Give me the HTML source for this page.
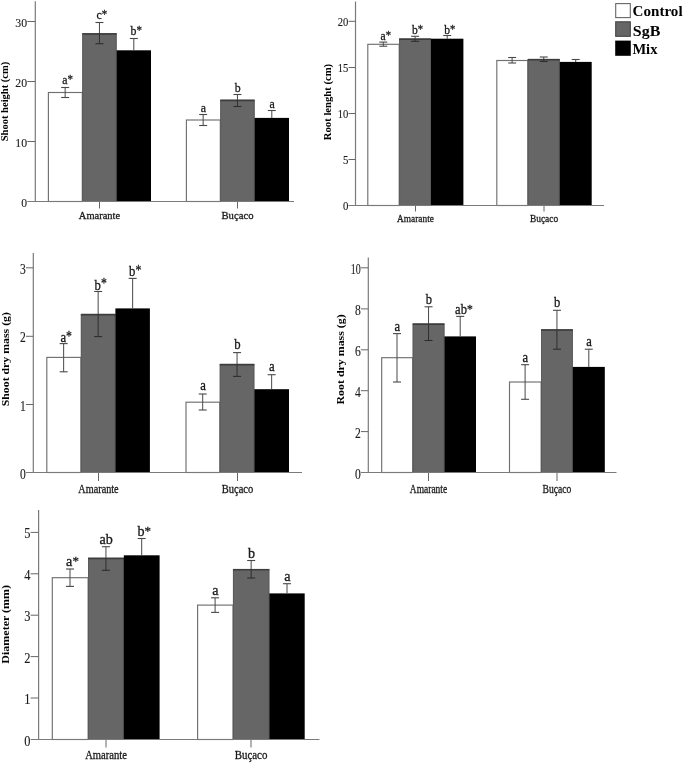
<!DOCTYPE html>
<html><head><meta charset="utf-8"><title>Figure</title>
<style>
html,body{margin:0;padding:0;background:#fff;}
svg{display:block;font-family:"Liberation Serif","DejaVu Serif",serif;}
</style></head><body>
<svg width="685" height="763" viewBox="0 0 685 763">
<rect x="0" y="0" width="685" height="763" fill="#ffffff"/>
<rect x="48.40" y="92.50" width="33.90" height="109.00" fill="#fff" stroke="#707070" stroke-width="1.15"/>
<rect x="82.30" y="33.00" width="34.30" height="168.50" fill="#666666"/>
<path d="M82.70 201.50V33.50M116.20 33.50V201.50" fill="none" stroke="#585858" stroke-width="0.9"/>
<path d="M82.30 33.95H116.60" fill="none" stroke="#3c3c3c" stroke-width="1.5"/>
<rect x="116.60" y="50.30" width="34.40" height="151.20" fill="#000"/>
<line x1="65.15" y1="87.50" x2="65.15" y2="92.50" stroke="#484848" stroke-width="1"/>
<line x1="65.15" y1="92.50" x2="65.15" y2="97.50" stroke="#484848" stroke-width="1"/>
<line x1="61.15" y1="87.50" x2="69.15" y2="87.50" stroke="#484848" stroke-width="1.1"/>
<line x1="61.15" y1="97.50" x2="69.15" y2="97.50" stroke="#484848" stroke-width="1.1"/>
<text transform="translate(67.65 84.20) scale(0.88 1)" font-size="13.5" text-anchor="middle" fill="#1a1a1a" stroke="#1a1a1a" stroke-width="0.3">a<tspan dy="-0.9" font-size="12.4">*</tspan></text>
<line x1="99.45" y1="22.50" x2="99.45" y2="33.50" stroke="#484848" stroke-width="1"/>
<line x1="99.45" y1="33.50" x2="99.45" y2="43.70" stroke="#2e2e2e" stroke-width="1"/>
<line x1="95.45" y1="22.50" x2="103.45" y2="22.50" stroke="#484848" stroke-width="1.1"/>
<line x1="95.45" y1="43.70" x2="103.45" y2="43.70" stroke="#2e2e2e" stroke-width="1.1"/>
<text transform="translate(101.95 19.20) scale(0.88 1)" font-size="13.5" text-anchor="middle" fill="#1a1a1a" stroke="#1a1a1a" stroke-width="0.3">c<tspan dy="-0.9" font-size="12.4">*</tspan></text>
<line x1="133.80" y1="38.50" x2="133.80" y2="50.40" stroke="#484848" stroke-width="1"/>
<line x1="129.80" y1="38.50" x2="137.80" y2="38.50" stroke="#484848" stroke-width="1.1"/>
<text transform="translate(136.30 35.20) scale(0.88 1)" font-size="13.5" text-anchor="middle" fill="#1a1a1a" stroke="#1a1a1a" stroke-width="0.3">b<tspan dy="-0.9" font-size="12.4">*</tspan></text>
<line x1="99.50" y1="201.50" x2="99.50" y2="208.50" stroke="#666" stroke-width="1"/>
<text transform="translate(99.50 218.70)" font-size="11" text-anchor="middle" fill="#1a1a1a" stroke="#1a1a1a" stroke-width="0.3" textLength="41.3" lengthAdjust="spacingAndGlyphs">Amarante</text>
<rect x="186.40" y="120.00" width="33.90" height="81.50" fill="#fff" stroke="#707070" stroke-width="1.15"/>
<rect x="220.30" y="99.50" width="34.30" height="102.00" fill="#666666"/>
<path d="M220.70 201.50V100.00M254.20 100.00V201.50" fill="none" stroke="#585858" stroke-width="0.9"/>
<path d="M220.30 100.45H254.60" fill="none" stroke="#3c3c3c" stroke-width="1.5"/>
<rect x="254.60" y="117.90" width="34.40" height="83.60" fill="#000"/>
<line x1="203.15" y1="114.50" x2="203.15" y2="120.00" stroke="#484848" stroke-width="1"/>
<line x1="203.15" y1="120.00" x2="203.15" y2="125.50" stroke="#484848" stroke-width="1"/>
<line x1="199.15" y1="114.50" x2="207.15" y2="114.50" stroke="#484848" stroke-width="1.1"/>
<line x1="199.15" y1="125.50" x2="207.15" y2="125.50" stroke="#484848" stroke-width="1.1"/>
<text transform="translate(203.45 112.30) scale(0.88 1)" font-size="13.5" text-anchor="middle" fill="#1a1a1a" stroke="#1a1a1a" stroke-width="0.3">a</text>
<line x1="237.45" y1="94.50" x2="237.45" y2="100.00" stroke="#484848" stroke-width="1"/>
<line x1="237.45" y1="100.00" x2="237.45" y2="106.50" stroke="#2e2e2e" stroke-width="1"/>
<line x1="233.45" y1="94.50" x2="241.45" y2="94.50" stroke="#484848" stroke-width="1.1"/>
<line x1="233.45" y1="106.50" x2="241.45" y2="106.50" stroke="#2e2e2e" stroke-width="1.1"/>
<text transform="translate(237.75 91.80) scale(0.88 1)" font-size="13.5" text-anchor="middle" fill="#1a1a1a" stroke="#1a1a1a" stroke-width="0.3">b</text>
<line x1="271.80" y1="110.50" x2="271.80" y2="118.00" stroke="#484848" stroke-width="1"/>
<line x1="267.80" y1="110.50" x2="275.80" y2="110.50" stroke="#484848" stroke-width="1.1"/>
<text transform="translate(272.10 108.30) scale(0.88 1)" font-size="13.5" text-anchor="middle" fill="#1a1a1a" stroke="#1a1a1a" stroke-width="0.3">a</text>
<line x1="237.50" y1="201.50" x2="237.50" y2="208.50" stroke="#666" stroke-width="1"/>
<text transform="translate(237.50 218.70)" font-size="11" text-anchor="middle" fill="#1a1a1a" stroke="#1a1a1a" stroke-width="0.3" textLength="32" lengthAdjust="spacingAndGlyphs">Buçaco</text>
<line x1="35.30" y1="1.20" x2="35.30" y2="202.00" stroke="#7a7a7a" stroke-width="1.2"/>
<line x1="27.30" y1="201.50" x2="294.00" y2="201.50" stroke="#7a7a7a" stroke-width="1.2"/>
<text transform="translate(27.10 206.90)" font-size="13" text-anchor="end" fill="#1a1a1a" stroke="#1a1a1a" stroke-width="0.12" textLength="5.8" lengthAdjust="spacingAndGlyphs">0</text>
<line x1="27.30" y1="141.50" x2="35.30" y2="141.50" stroke="#666" stroke-width="1"/>
<text transform="translate(27.10 146.90)" font-size="13" text-anchor="end" fill="#1a1a1a" stroke="#1a1a1a" stroke-width="0.12" textLength="11.8" lengthAdjust="spacingAndGlyphs">10</text>
<line x1="27.30" y1="81.50" x2="35.30" y2="81.50" stroke="#666" stroke-width="1"/>
<text transform="translate(27.10 86.90)" font-size="13" text-anchor="end" fill="#1a1a1a" stroke="#1a1a1a" stroke-width="0.12" textLength="11.8" lengthAdjust="spacingAndGlyphs">20</text>
<line x1="27.30" y1="21.50" x2="35.30" y2="21.50" stroke="#666" stroke-width="1"/>
<text transform="translate(27.10 26.90)" font-size="13" text-anchor="end" fill="#1a1a1a" stroke="#1a1a1a" stroke-width="0.12" textLength="11.8" lengthAdjust="spacingAndGlyphs">30</text>
<text transform="translate(8.40 101.50) rotate(-90)" font-size="10" text-anchor="middle" fill="#000" font-weight="bold" textLength="79.6" lengthAdjust="spacingAndGlyphs">Shoot height (cm)</text>
<rect x="367.80" y="44.30" width="31.40" height="161.20" fill="#fff" stroke="#707070" stroke-width="1.15"/>
<rect x="399.20" y="38.30" width="31.80" height="167.20" fill="#666666"/>
<path d="M399.60 205.50V38.80M430.60 38.80V205.50" fill="none" stroke="#585858" stroke-width="0.9"/>
<path d="M399.20 39.25H431.00" fill="none" stroke="#3c3c3c" stroke-width="1.5"/>
<rect x="431.00" y="38.70" width="32.40" height="166.80" fill="#000"/>
<line x1="383.30" y1="42.10" x2="383.30" y2="44.30" stroke="#484848" stroke-width="1"/>
<line x1="383.30" y1="44.30" x2="383.30" y2="46.20" stroke="#484848" stroke-width="1"/>
<line x1="379.30" y1="42.10" x2="387.30" y2="42.10" stroke="#484848" stroke-width="1.1"/>
<line x1="379.30" y1="46.20" x2="387.30" y2="46.20" stroke="#484848" stroke-width="1.1"/>
<text transform="translate(385.80 40.10) scale(0.88 1)" font-size="13.2" text-anchor="middle" fill="#1a1a1a" stroke="#1a1a1a" stroke-width="0.3">a<tspan dy="-0.9" font-size="12.1">*</tspan></text>
<line x1="415.10" y1="36.30" x2="415.10" y2="38.80" stroke="#484848" stroke-width="1"/>
<line x1="415.10" y1="38.80" x2="415.10" y2="41.30" stroke="#2e2e2e" stroke-width="1"/>
<line x1="411.10" y1="36.30" x2="419.10" y2="36.30" stroke="#484848" stroke-width="1.1"/>
<line x1="411.10" y1="41.30" x2="419.10" y2="41.30" stroke="#2e2e2e" stroke-width="1.1"/>
<text transform="translate(417.60 34.30) scale(0.88 1)" font-size="13.2" text-anchor="middle" fill="#1a1a1a" stroke="#1a1a1a" stroke-width="0.3">b<tspan dy="-0.9" font-size="12.1">*</tspan></text>
<line x1="447.20" y1="35.50" x2="447.20" y2="38.80" stroke="#484848" stroke-width="1"/>
<line x1="443.20" y1="35.50" x2="451.20" y2="35.50" stroke="#484848" stroke-width="1.1"/>
<text transform="translate(449.70 33.50) scale(0.88 1)" font-size="13.2" text-anchor="middle" fill="#1a1a1a" stroke="#1a1a1a" stroke-width="0.3">b<tspan dy="-0.9" font-size="12.1">*</tspan></text>
<line x1="415.50" y1="205.50" x2="415.50" y2="211.50" stroke="#666" stroke-width="1"/>
<text transform="translate(415.50 221.90)" font-size="11" text-anchor="middle" fill="#1a1a1a" stroke="#1a1a1a" stroke-width="0.3" textLength="36.8" lengthAdjust="spacingAndGlyphs">Amarante</text>
<rect x="496.80" y="60.50" width="31.00" height="145.00" fill="#fff" stroke="#707070" stroke-width="1.15"/>
<rect x="527.80" y="58.80" width="31.90" height="146.70" fill="#666666"/>
<path d="M528.20 205.50V59.30M559.30 59.30V205.50" fill="none" stroke="#585858" stroke-width="0.9"/>
<path d="M527.80 59.75H559.70" fill="none" stroke="#3c3c3c" stroke-width="1.5"/>
<rect x="559.70" y="61.90" width="32.00" height="143.60" fill="#000"/>
<line x1="512.10" y1="57.50" x2="512.10" y2="60.50" stroke="#484848" stroke-width="1"/>
<line x1="512.10" y1="60.50" x2="512.10" y2="63.00" stroke="#484848" stroke-width="1"/>
<line x1="508.10" y1="57.50" x2="516.10" y2="57.50" stroke="#484848" stroke-width="1.1"/>
<line x1="508.10" y1="63.00" x2="516.10" y2="63.00" stroke="#484848" stroke-width="1.1"/>
<line x1="543.75" y1="57.00" x2="543.75" y2="59.30" stroke="#484848" stroke-width="1"/>
<line x1="543.75" y1="59.30" x2="543.75" y2="61.50" stroke="#2e2e2e" stroke-width="1"/>
<line x1="539.75" y1="57.00" x2="547.75" y2="57.00" stroke="#484848" stroke-width="1.1"/>
<line x1="539.75" y1="61.50" x2="547.75" y2="61.50" stroke="#2e2e2e" stroke-width="1.1"/>
<line x1="575.70" y1="59.50" x2="575.70" y2="62.00" stroke="#484848" stroke-width="1"/>
<line x1="571.70" y1="59.50" x2="579.70" y2="59.50" stroke="#484848" stroke-width="1.1"/>
<line x1="544.00" y1="205.50" x2="544.00" y2="211.50" stroke="#666" stroke-width="1"/>
<text transform="translate(544.00 221.90)" font-size="11" text-anchor="middle" fill="#1a1a1a" stroke="#1a1a1a" stroke-width="0.3" textLength="28.2" lengthAdjust="spacingAndGlyphs">Buçaco</text>
<line x1="355.50" y1="1.50" x2="355.50" y2="206.00" stroke="#7a7a7a" stroke-width="1.2"/>
<line x1="348.50" y1="205.50" x2="604.00" y2="205.50" stroke="#7a7a7a" stroke-width="1.2"/>
<text transform="translate(348.30 210.30)" font-size="12.5" text-anchor="end" fill="#1a1a1a" stroke="#1a1a1a" stroke-width="0.12" textLength="5.4" lengthAdjust="spacingAndGlyphs">0</text>
<line x1="348.50" y1="159.50" x2="355.50" y2="159.50" stroke="#666" stroke-width="1"/>
<text transform="translate(348.30 164.30)" font-size="12.5" text-anchor="end" fill="#1a1a1a" stroke="#1a1a1a" stroke-width="0.12" textLength="5.4" lengthAdjust="spacingAndGlyphs">5</text>
<line x1="348.50" y1="113.50" x2="355.50" y2="113.50" stroke="#666" stroke-width="1"/>
<text transform="translate(348.30 118.30)" font-size="12.5" text-anchor="end" fill="#1a1a1a" stroke="#1a1a1a" stroke-width="0.12" textLength="10.6" lengthAdjust="spacingAndGlyphs">10</text>
<line x1="348.50" y1="67.50" x2="355.50" y2="67.50" stroke="#666" stroke-width="1"/>
<text transform="translate(348.30 72.30)" font-size="12.5" text-anchor="end" fill="#1a1a1a" stroke="#1a1a1a" stroke-width="0.12" textLength="10.6" lengthAdjust="spacingAndGlyphs">15</text>
<line x1="348.50" y1="21.30" x2="355.50" y2="21.30" stroke="#666" stroke-width="1"/>
<text transform="translate(348.30 26.10)" font-size="12.5" text-anchor="end" fill="#1a1a1a" stroke="#1a1a1a" stroke-width="0.12" textLength="10.6" lengthAdjust="spacingAndGlyphs">20</text>
<text transform="translate(330.70 102.00) rotate(-90)" font-size="9.5" text-anchor="middle" fill="#000" font-weight="bold" textLength="76.3" lengthAdjust="spacingAndGlyphs">Root lenght (cm)</text>
<rect x="46.80" y="357.40" width="34.10" height="115.10" fill="#fff" stroke="#707070" stroke-width="1.15"/>
<rect x="80.90" y="313.70" width="34.50" height="158.80" fill="#666666"/>
<path d="M81.30 472.50V314.20M115.00 314.20V472.50" fill="none" stroke="#585858" stroke-width="0.9"/>
<path d="M80.90 314.65H115.40" fill="none" stroke="#3c3c3c" stroke-width="1.5"/>
<rect x="115.40" y="308.40" width="34.50" height="164.10" fill="#000"/>
<line x1="63.65" y1="343.60" x2="63.65" y2="357.40" stroke="#484848" stroke-width="1"/>
<line x1="63.65" y1="357.40" x2="63.65" y2="371.80" stroke="#484848" stroke-width="1"/>
<line x1="59.65" y1="343.60" x2="67.65" y2="343.60" stroke="#484848" stroke-width="1.1"/>
<line x1="59.65" y1="371.80" x2="67.65" y2="371.80" stroke="#484848" stroke-width="1.1"/>
<text transform="translate(66.15 341.60) scale(0.85 1)" font-size="15" text-anchor="middle" fill="#1a1a1a" stroke="#1a1a1a" stroke-width="0.3">a<tspan dy="-1.1" font-size="13.8">*</tspan></text>
<line x1="98.15" y1="291.50" x2="98.15" y2="314.20" stroke="#484848" stroke-width="1"/>
<line x1="98.15" y1="314.20" x2="98.15" y2="336.60" stroke="#2e2e2e" stroke-width="1"/>
<line x1="94.15" y1="291.50" x2="102.15" y2="291.50" stroke="#484848" stroke-width="1.1"/>
<line x1="94.15" y1="336.60" x2="102.15" y2="336.60" stroke="#2e2e2e" stroke-width="1.1"/>
<text transform="translate(100.65 289.50) scale(0.85 1)" font-size="15" text-anchor="middle" fill="#1a1a1a" stroke="#1a1a1a" stroke-width="0.3">b<tspan dy="-1.1" font-size="13.8">*</tspan></text>
<line x1="132.65" y1="278.40" x2="132.65" y2="308.50" stroke="#484848" stroke-width="1"/>
<line x1="128.65" y1="278.40" x2="136.65" y2="278.40" stroke="#484848" stroke-width="1.1"/>
<text transform="translate(135.15 276.40) scale(0.85 1)" font-size="15" text-anchor="middle" fill="#1a1a1a" stroke="#1a1a1a" stroke-width="0.3">b<tspan dy="-1.1" font-size="13.8">*</tspan></text>
<line x1="98.50" y1="472.50" x2="98.50" y2="481.00" stroke="#666" stroke-width="1"/>
<text transform="translate(98.50 492.60)" font-size="12" text-anchor="middle" fill="#1a1a1a" stroke="#1a1a1a" stroke-width="0.3" textLength="40.3" lengthAdjust="spacingAndGlyphs">Amarante</text>
<rect x="186.00" y="402.20" width="33.80" height="70.30" fill="#fff" stroke="#707070" stroke-width="1.15"/>
<rect x="219.80" y="363.70" width="34.50" height="108.80" fill="#666666"/>
<path d="M220.20 472.50V364.20M253.90 364.20V472.50" fill="none" stroke="#585858" stroke-width="0.9"/>
<path d="M219.80 364.65H254.30" fill="none" stroke="#3c3c3c" stroke-width="1.5"/>
<rect x="254.30" y="389.20" width="34.70" height="83.30" fill="#000"/>
<line x1="202.70" y1="394.00" x2="202.70" y2="402.20" stroke="#484848" stroke-width="1"/>
<line x1="202.70" y1="402.20" x2="202.70" y2="410.00" stroke="#484848" stroke-width="1"/>
<line x1="198.70" y1="394.00" x2="206.70" y2="394.00" stroke="#484848" stroke-width="1.1"/>
<line x1="198.70" y1="410.00" x2="206.70" y2="410.00" stroke="#484848" stroke-width="1.1"/>
<text transform="translate(203.00 390.30) scale(0.85 1)" font-size="15" text-anchor="middle" fill="#1a1a1a" stroke="#1a1a1a" stroke-width="0.3">a</text>
<line x1="237.05" y1="352.60" x2="237.05" y2="364.20" stroke="#484848" stroke-width="1"/>
<line x1="237.05" y1="364.20" x2="237.05" y2="376.40" stroke="#2e2e2e" stroke-width="1"/>
<line x1="233.05" y1="352.60" x2="241.05" y2="352.60" stroke="#484848" stroke-width="1.1"/>
<line x1="233.05" y1="376.40" x2="241.05" y2="376.40" stroke="#2e2e2e" stroke-width="1.1"/>
<text transform="translate(237.35 348.90) scale(0.85 1)" font-size="15" text-anchor="middle" fill="#1a1a1a" stroke="#1a1a1a" stroke-width="0.3">b</text>
<line x1="271.65" y1="374.70" x2="271.65" y2="389.30" stroke="#484848" stroke-width="1"/>
<line x1="267.65" y1="374.70" x2="275.65" y2="374.70" stroke="#484848" stroke-width="1.1"/>
<text transform="translate(271.95 371.00) scale(0.85 1)" font-size="15" text-anchor="middle" fill="#1a1a1a" stroke="#1a1a1a" stroke-width="0.3">a</text>
<line x1="237.50" y1="472.50" x2="237.50" y2="481.00" stroke="#666" stroke-width="1"/>
<text transform="translate(237.50 492.60)" font-size="12" text-anchor="middle" fill="#1a1a1a" stroke="#1a1a1a" stroke-width="0.3" textLength="31.5" lengthAdjust="spacingAndGlyphs">Buçaco</text>
<line x1="33.30" y1="253.00" x2="33.30" y2="473.00" stroke="#7a7a7a" stroke-width="1.2"/>
<line x1="26.00" y1="472.50" x2="302.00" y2="472.50" stroke="#7a7a7a" stroke-width="1.2"/>
<text transform="translate(25.80 478.50)" font-size="14" text-anchor="end" fill="#1a1a1a" stroke="#1a1a1a" stroke-width="0.12" textLength="5.8" lengthAdjust="spacingAndGlyphs">0</text>
<line x1="26.00" y1="404.50" x2="33.30" y2="404.50" stroke="#666" stroke-width="1"/>
<text transform="translate(25.80 410.50)" font-size="14" text-anchor="end" fill="#1a1a1a" stroke="#1a1a1a" stroke-width="0.12" textLength="5.8" lengthAdjust="spacingAndGlyphs">1</text>
<line x1="26.00" y1="336.30" x2="33.30" y2="336.30" stroke="#666" stroke-width="1"/>
<text transform="translate(25.80 342.30)" font-size="14" text-anchor="end" fill="#1a1a1a" stroke="#1a1a1a" stroke-width="0.12" textLength="5.8" lengthAdjust="spacingAndGlyphs">2</text>
<line x1="26.00" y1="267.80" x2="33.30" y2="267.80" stroke="#666" stroke-width="1"/>
<text transform="translate(25.80 273.80)" font-size="14" text-anchor="end" fill="#1a1a1a" stroke="#1a1a1a" stroke-width="0.12" textLength="5.8" lengthAdjust="spacingAndGlyphs">3</text>
<text transform="translate(8.50 359.20) rotate(-90)" font-size="10" text-anchor="middle" fill="#000" font-weight="bold" textLength="94.3" lengthAdjust="spacingAndGlyphs">Shoot dry mass (g)</text>
<rect x="381.70" y="357.70" width="31.00" height="114.80" fill="#fff" stroke="#707070" stroke-width="1.15"/>
<rect x="412.70" y="323.30" width="31.70" height="149.20" fill="#666666"/>
<path d="M413.10 472.50V323.80M444.00 323.80V472.50" fill="none" stroke="#585858" stroke-width="0.9"/>
<path d="M412.70 324.25H444.40" fill="none" stroke="#3c3c3c" stroke-width="1.5"/>
<rect x="444.40" y="336.40" width="31.60" height="136.10" fill="#000"/>
<line x1="397.00" y1="333.60" x2="397.00" y2="357.70" stroke="#484848" stroke-width="1"/>
<line x1="397.00" y1="357.70" x2="397.00" y2="382.00" stroke="#484848" stroke-width="1"/>
<line x1="393.00" y1="333.60" x2="401.00" y2="333.60" stroke="#484848" stroke-width="1.1"/>
<line x1="393.00" y1="382.00" x2="401.00" y2="382.00" stroke="#484848" stroke-width="1.1"/>
<text transform="translate(397.30 330.50) scale(0.88 1)" font-size="14.3" text-anchor="middle" fill="#1a1a1a" stroke="#1a1a1a" stroke-width="0.3">a</text>
<line x1="428.55" y1="306.80" x2="428.55" y2="323.80" stroke="#484848" stroke-width="1"/>
<line x1="428.55" y1="323.80" x2="428.55" y2="340.50" stroke="#2e2e2e" stroke-width="1"/>
<line x1="424.55" y1="306.80" x2="432.55" y2="306.80" stroke="#484848" stroke-width="1.1"/>
<line x1="424.55" y1="340.50" x2="432.55" y2="340.50" stroke="#2e2e2e" stroke-width="1.1"/>
<text transform="translate(428.85 303.70) scale(0.88 1)" font-size="14.3" text-anchor="middle" fill="#1a1a1a" stroke="#1a1a1a" stroke-width="0.3">b</text>
<line x1="460.20" y1="316.40" x2="460.20" y2="336.50" stroke="#484848" stroke-width="1"/>
<line x1="456.20" y1="316.40" x2="464.20" y2="316.40" stroke="#484848" stroke-width="1.1"/>
<text transform="translate(463.90 313.90) scale(0.88 1)" font-size="14.3" text-anchor="middle" fill="#1a1a1a" stroke="#1a1a1a" stroke-width="0.3">ab<tspan dy="-1.0" font-size="13.2">*</tspan></text>
<line x1="428.50" y1="472.50" x2="428.50" y2="481.00" stroke="#666" stroke-width="1"/>
<text transform="translate(428.50 492.60)" font-size="12" text-anchor="middle" fill="#1a1a1a" stroke="#1a1a1a" stroke-width="0.3" textLength="37.3" lengthAdjust="spacingAndGlyphs">Amarante</text>
<rect x="509.50" y="382.00" width="31.60" height="90.50" fill="#fff" stroke="#707070" stroke-width="1.15"/>
<rect x="541.10" y="329.10" width="31.70" height="143.40" fill="#666666"/>
<path d="M541.50 472.50V329.60M572.40 329.60V472.50" fill="none" stroke="#585858" stroke-width="0.9"/>
<path d="M541.10 330.05H572.80" fill="none" stroke="#3c3c3c" stroke-width="1.5"/>
<rect x="572.80" y="366.90" width="32.00" height="105.60" fill="#000"/>
<line x1="525.10" y1="364.70" x2="525.10" y2="382.00" stroke="#484848" stroke-width="1"/>
<line x1="525.10" y1="382.00" x2="525.10" y2="399.30" stroke="#484848" stroke-width="1"/>
<line x1="521.10" y1="364.70" x2="529.10" y2="364.70" stroke="#484848" stroke-width="1.1"/>
<line x1="521.10" y1="399.30" x2="529.10" y2="399.30" stroke="#484848" stroke-width="1.1"/>
<text transform="translate(525.40 361.60) scale(0.88 1)" font-size="14.3" text-anchor="middle" fill="#1a1a1a" stroke="#1a1a1a" stroke-width="0.3">a</text>
<line x1="556.95" y1="310.30" x2="556.95" y2="329.60" stroke="#484848" stroke-width="1"/>
<line x1="556.95" y1="329.60" x2="556.95" y2="349.20" stroke="#2e2e2e" stroke-width="1"/>
<line x1="552.95" y1="310.30" x2="560.95" y2="310.30" stroke="#484848" stroke-width="1.1"/>
<line x1="552.95" y1="349.20" x2="560.95" y2="349.20" stroke="#2e2e2e" stroke-width="1.1"/>
<text transform="translate(557.25 307.20) scale(0.88 1)" font-size="14.3" text-anchor="middle" fill="#1a1a1a" stroke="#1a1a1a" stroke-width="0.3">b</text>
<line x1="588.80" y1="349.20" x2="588.80" y2="367.00" stroke="#484848" stroke-width="1"/>
<line x1="584.80" y1="349.20" x2="592.80" y2="349.20" stroke="#484848" stroke-width="1.1"/>
<text transform="translate(589.10 346.10) scale(0.88 1)" font-size="14.3" text-anchor="middle" fill="#1a1a1a" stroke="#1a1a1a" stroke-width="0.3">a</text>
<line x1="557.00" y1="472.50" x2="557.00" y2="481.00" stroke="#666" stroke-width="1"/>
<text transform="translate(557.00 492.60)" font-size="12" text-anchor="middle" fill="#1a1a1a" stroke="#1a1a1a" stroke-width="0.3" textLength="28.8" lengthAdjust="spacingAndGlyphs">Buçaco</text>
<line x1="368.30" y1="257.50" x2="368.30" y2="473.00" stroke="#7a7a7a" stroke-width="1.2"/>
<line x1="360.90" y1="472.50" x2="616.50" y2="472.50" stroke="#7a7a7a" stroke-width="1.2"/>
<text transform="translate(360.70 478.50)" font-size="14" text-anchor="end" fill="#1a1a1a" stroke="#1a1a1a" stroke-width="0.12" textLength="5.8" lengthAdjust="spacingAndGlyphs">0</text>
<line x1="360.90" y1="431.60" x2="368.30" y2="431.60" stroke="#666" stroke-width="1"/>
<text transform="translate(360.70 437.60)" font-size="14" text-anchor="end" fill="#1a1a1a" stroke="#1a1a1a" stroke-width="0.12" textLength="5.8" lengthAdjust="spacingAndGlyphs">2</text>
<line x1="360.90" y1="390.70" x2="368.30" y2="390.70" stroke="#666" stroke-width="1"/>
<text transform="translate(360.70 396.70)" font-size="14" text-anchor="end" fill="#1a1a1a" stroke="#1a1a1a" stroke-width="0.12" textLength="5.8" lengthAdjust="spacingAndGlyphs">4</text>
<line x1="360.90" y1="349.80" x2="368.30" y2="349.80" stroke="#666" stroke-width="1"/>
<text transform="translate(360.70 355.80)" font-size="14" text-anchor="end" fill="#1a1a1a" stroke="#1a1a1a" stroke-width="0.12" textLength="5.8" lengthAdjust="spacingAndGlyphs">6</text>
<line x1="360.90" y1="308.90" x2="368.30" y2="308.90" stroke="#666" stroke-width="1"/>
<text transform="translate(360.70 314.90)" font-size="14" text-anchor="end" fill="#1a1a1a" stroke="#1a1a1a" stroke-width="0.12" textLength="5.8" lengthAdjust="spacingAndGlyphs">8</text>
<line x1="360.90" y1="267.80" x2="368.30" y2="267.80" stroke="#666" stroke-width="1"/>
<text transform="translate(360.70 273.80)" font-size="14" text-anchor="end" fill="#1a1a1a" stroke="#1a1a1a" stroke-width="0.12" textLength="10" lengthAdjust="spacingAndGlyphs">10</text>
<text transform="translate(344.00 359.40) rotate(-90)" font-size="10" text-anchor="middle" fill="#000" font-weight="bold" textLength="90.2" lengthAdjust="spacingAndGlyphs">Root dry mass (g)</text>
<rect x="52.30" y="577.70" width="35.80" height="161.80" fill="#fff" stroke="#707070" stroke-width="1.15"/>
<rect x="88.10" y="557.60" width="35.70" height="181.90" fill="#666666"/>
<path d="M88.50 739.50V558.10M123.40 558.10V739.50" fill="none" stroke="#585858" stroke-width="0.9"/>
<path d="M88.10 558.55H123.80" fill="none" stroke="#3c3c3c" stroke-width="1.5"/>
<rect x="123.80" y="555.30" width="35.80" height="184.20" fill="#000"/>
<line x1="70.00" y1="569.00" x2="70.00" y2="577.70" stroke="#484848" stroke-width="1"/>
<line x1="70.00" y1="577.70" x2="70.00" y2="586.40" stroke="#484848" stroke-width="1"/>
<line x1="66.00" y1="569.00" x2="74.00" y2="569.00" stroke="#484848" stroke-width="1.1"/>
<line x1="66.00" y1="586.40" x2="74.00" y2="586.40" stroke="#484848" stroke-width="1.1"/>
<text transform="translate(72.50 566.10) scale(0.97 1)" font-size="14.6" text-anchor="middle" fill="#1a1a1a" stroke="#1a1a1a" stroke-width="0.3">a<tspan dy="-1.0" font-size="13.4">*</tspan></text>
<line x1="105.95" y1="546.70" x2="105.95" y2="558.10" stroke="#484848" stroke-width="1"/>
<line x1="105.95" y1="558.10" x2="105.95" y2="570.30" stroke="#2e2e2e" stroke-width="1"/>
<line x1="101.95" y1="546.70" x2="109.95" y2="546.70" stroke="#484848" stroke-width="1.1"/>
<line x1="101.95" y1="570.30" x2="109.95" y2="570.30" stroke="#2e2e2e" stroke-width="1.1"/>
<text transform="translate(106.25 543.80) scale(0.97 1)" font-size="14.6" text-anchor="middle" fill="#1a1a1a" stroke="#1a1a1a" stroke-width="0.3">ab</text>
<line x1="141.70" y1="538.50" x2="141.70" y2="555.40" stroke="#484848" stroke-width="1"/>
<line x1="137.70" y1="538.50" x2="145.70" y2="538.50" stroke="#484848" stroke-width="1.1"/>
<text transform="translate(144.20 535.60) scale(0.97 1)" font-size="14.6" text-anchor="middle" fill="#1a1a1a" stroke="#1a1a1a" stroke-width="0.3">b<tspan dy="-1.0" font-size="13.4">*</tspan></text>
<line x1="106.00" y1="739.50" x2="106.00" y2="747.50" stroke="#666" stroke-width="1"/>
<text transform="translate(106.00 759.10)" font-size="12" text-anchor="middle" fill="#1a1a1a" stroke="#1a1a1a" stroke-width="0.3" textLength="41.7" lengthAdjust="spacingAndGlyphs">Amarante</text>
<rect x="197.60" y="605.10" width="35.40" height="134.40" fill="#fff" stroke="#707070" stroke-width="1.15"/>
<rect x="233.00" y="568.90" width="36.30" height="170.60" fill="#666666"/>
<path d="M233.40 739.50V569.40M268.90 569.40V739.50" fill="none" stroke="#585858" stroke-width="0.9"/>
<path d="M233.00 569.85H269.30" fill="none" stroke="#3c3c3c" stroke-width="1.5"/>
<rect x="269.30" y="593.40" width="35.40" height="146.10" fill="#000"/>
<line x1="215.10" y1="597.80" x2="215.10" y2="605.10" stroke="#484848" stroke-width="1"/>
<line x1="215.10" y1="605.10" x2="215.10" y2="612.40" stroke="#484848" stroke-width="1"/>
<line x1="211.10" y1="597.80" x2="219.10" y2="597.80" stroke="#484848" stroke-width="1.1"/>
<line x1="211.10" y1="612.40" x2="219.10" y2="612.40" stroke="#484848" stroke-width="1.1"/>
<text transform="translate(215.40 594.90) scale(0.97 1)" font-size="14.6" text-anchor="middle" fill="#1a1a1a" stroke="#1a1a1a" stroke-width="0.3">a</text>
<line x1="251.15" y1="560.50" x2="251.15" y2="569.40" stroke="#484848" stroke-width="1"/>
<line x1="251.15" y1="569.40" x2="251.15" y2="578.00" stroke="#2e2e2e" stroke-width="1"/>
<line x1="247.15" y1="560.50" x2="255.15" y2="560.50" stroke="#484848" stroke-width="1.1"/>
<line x1="247.15" y1="578.00" x2="255.15" y2="578.00" stroke="#2e2e2e" stroke-width="1.1"/>
<text transform="translate(251.45 557.60) scale(0.97 1)" font-size="14.6" text-anchor="middle" fill="#1a1a1a" stroke="#1a1a1a" stroke-width="0.3">b</text>
<line x1="287.00" y1="583.70" x2="287.00" y2="593.50" stroke="#484848" stroke-width="1"/>
<line x1="283.00" y1="583.70" x2="291.00" y2="583.70" stroke="#484848" stroke-width="1.1"/>
<text transform="translate(287.30 580.80) scale(0.97 1)" font-size="14.6" text-anchor="middle" fill="#1a1a1a" stroke="#1a1a1a" stroke-width="0.3">a</text>
<line x1="251.00" y1="739.50" x2="251.00" y2="747.50" stroke="#666" stroke-width="1"/>
<text transform="translate(251.00 759.10)" font-size="12" text-anchor="middle" fill="#1a1a1a" stroke="#1a1a1a" stroke-width="0.3" textLength="32.7" lengthAdjust="spacingAndGlyphs">Buçaco</text>
<line x1="38.60" y1="510.00" x2="38.60" y2="740.00" stroke="#7a7a7a" stroke-width="1.2"/>
<line x1="30.60" y1="739.50" x2="319.50" y2="739.50" stroke="#7a7a7a" stroke-width="1.2"/>
<text transform="translate(30.40 745.50)" font-size="14" text-anchor="end" fill="#1a1a1a" stroke="#1a1a1a" stroke-width="0.12" textLength="6.2" lengthAdjust="spacingAndGlyphs">0</text>
<line x1="30.60" y1="698.00" x2="38.60" y2="698.00" stroke="#666" stroke-width="1"/>
<text transform="translate(30.40 704.00)" font-size="14" text-anchor="end" fill="#1a1a1a" stroke="#1a1a1a" stroke-width="0.12" textLength="6.2" lengthAdjust="spacingAndGlyphs">1</text>
<line x1="30.60" y1="656.60" x2="38.60" y2="656.60" stroke="#666" stroke-width="1"/>
<text transform="translate(30.40 662.60)" font-size="14" text-anchor="end" fill="#1a1a1a" stroke="#1a1a1a" stroke-width="0.12" textLength="6.2" lengthAdjust="spacingAndGlyphs">2</text>
<line x1="30.60" y1="615.20" x2="38.60" y2="615.20" stroke="#666" stroke-width="1"/>
<text transform="translate(30.40 621.20)" font-size="14" text-anchor="end" fill="#1a1a1a" stroke="#1a1a1a" stroke-width="0.12" textLength="6.2" lengthAdjust="spacingAndGlyphs">3</text>
<line x1="30.60" y1="573.80" x2="38.60" y2="573.80" stroke="#666" stroke-width="1"/>
<text transform="translate(30.40 579.80)" font-size="14" text-anchor="end" fill="#1a1a1a" stroke="#1a1a1a" stroke-width="0.12" textLength="6.2" lengthAdjust="spacingAndGlyphs">4</text>
<line x1="30.60" y1="532.40" x2="38.60" y2="532.40" stroke="#666" stroke-width="1"/>
<text transform="translate(30.40 538.40)" font-size="14" text-anchor="end" fill="#1a1a1a" stroke="#1a1a1a" stroke-width="0.12" textLength="6.2" lengthAdjust="spacingAndGlyphs">5</text>
<text transform="translate(8.50 624.30) rotate(-90)" font-size="10" text-anchor="middle" fill="#000" font-weight="bold" textLength="78.7" lengthAdjust="spacingAndGlyphs">Diameter (mm)</text>
<rect x="615.7" y="3.6" width="14.6" height="14" fill="#fff" stroke="#666" stroke-width="1.1"/>
<rect x="615.7" y="21.8" width="14.6" height="14.5" fill="#666666" stroke="#444" stroke-width="1.1"/>
<rect x="615.2" y="40.6" width="15.6" height="15.2" fill="#000"/>
<text transform="translate(632.60 15.80)" font-size="15" text-anchor="start" fill="#000" font-weight="bold" textLength="50" lengthAdjust="spacingAndGlyphs">Control</text>
<text transform="translate(632.80 36.00)" font-size="15" text-anchor="start" fill="#000" font-weight="bold" textLength="27.5" lengthAdjust="spacingAndGlyphs">SgB</text>
<text transform="translate(632.40 54.00)" font-size="15" text-anchor="start" fill="#000" font-weight="bold" textLength="25" lengthAdjust="spacingAndGlyphs">Mix</text>
</svg>
</body></html>
